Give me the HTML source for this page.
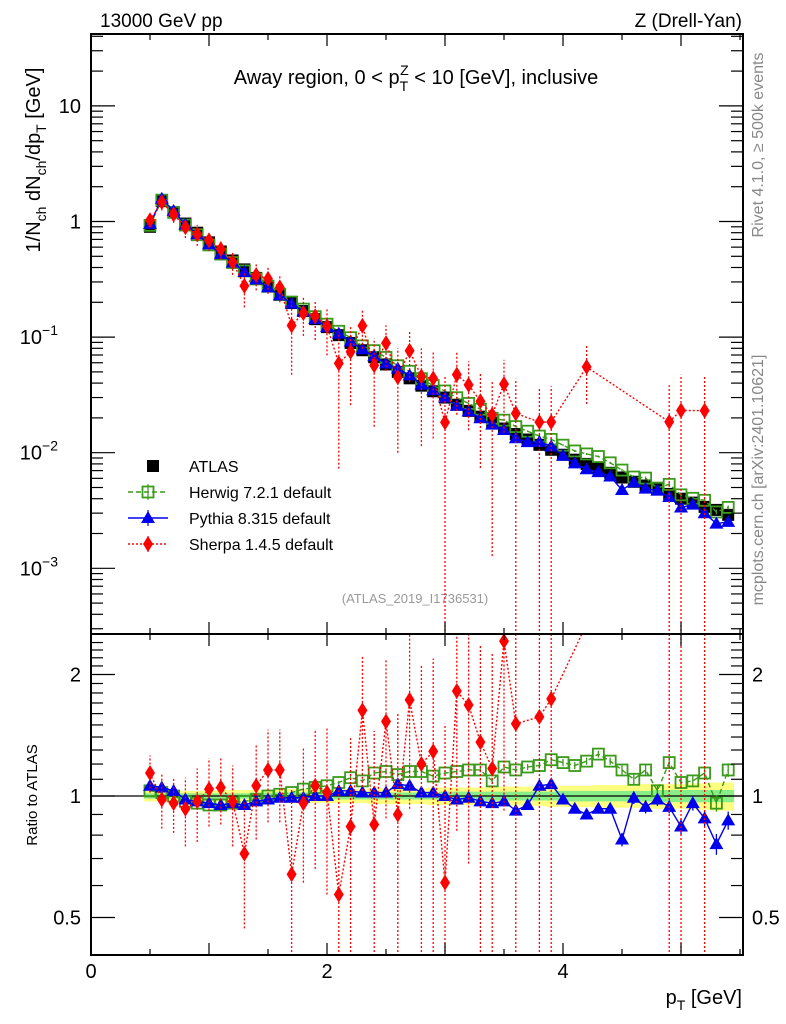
<!DOCTYPE html>
<html><head><meta charset="utf-8">
<style>
html,body{margin:0;padding:0;background:#fff;width:786px;height:1024px;overflow:hidden;}
svg{display:block;font-family:"Liberation Sans",Arial,sans-serif;}
</style></head>
<body>
<svg id="chart" width="786" height="1024" viewBox="0 0 786 1024">
  <text x="100" y="27" font-size="19">13000 GeV pp</text>
  <text x="742" y="27" font-size="19" text-anchor="end">Z (Drell-Yan)</text>
  <text x="416" y="84" font-size="20" text-anchor="middle">Away region, 0 &lt; p<tspan font-size="14" dy="7">T</tspan><tspan font-size="14" dx="-8" dy="-16">Z</tspan><tspan dy="9"> &lt; 10 [GeV], inclusive</tspan></text>
  <text x="415" y="603" font-size="13" fill="#999" text-anchor="middle">(ATLAS_2019_I1736531)</text>
  <text transform="translate(763,145) rotate(-90)" font-size="16" fill="#888" text-anchor="middle">Rivet 4.1.0, ≥ 500k events</text>
  <text transform="translate(763,480) rotate(-90)" font-size="16" fill="#888" text-anchor="middle">mcplots.cern.ch [arXiv:2401.10621]</text>
  <text transform="translate(40,160) rotate(-90)" font-size="20" text-anchor="middle">1/N<tspan font-size="14" dy="6">ch</tspan><tspan dy="-6"> dN</tspan><tspan font-size="14" dy="6">ch</tspan><tspan dy="-6">/dp</tspan><tspan font-size="14" dy="6">T</tspan><tspan dy="-6"> [GeV]</tspan></text>
  <text transform="translate(37,795) rotate(-90)" font-size="15" text-anchor="middle">Ratio to ATLAS</text>
  <text x="742" y="1004" font-size="20" text-anchor="end">p<tspan font-size="14" dy="6">T</tspan><tspan dy="-6"> [GeV]</tspan></text>
  <g id="main"></g>
  <g id="ratio"></g>
  <g id="axes"></g>
  <g id="legend"></g>
</svg>
<script>
const xs = [0.5,0.6,0.7,0.8,0.9,1.0,1.1,1.2,1.3,1.4,1.5,1.6,1.7,1.8,1.9,2.0,2.1,2.2,2.3,2.4,2.5,2.6,2.7,2.8,2.9,3.0,3.1,3.2,3.3,3.4,3.5,3.6,3.7,3.8,3.9,4.0,4.1,4.2,4.3,4.4,4.5,4.6,4.7,4.8,4.9,5.0,5.1,5.2,5.3,5.4];
const atlas = [0.90,1.50,1.20,0.96,0.80,0.66,0.55,0.46,0.385,0.325,0.275,0.232,0.197,0.168,0.143,0.122,0.104,0.089,0.077,0.067,0.058,0.050,0.044,0.038,0.034,0.030,0.026,0.023,0.0205,0.0182,0.0162,0.0145,0.013,0.0117,0.0106,0.0096,0.0087,0.0080,0.0073,0.0067,0.0061,0.0056,0.0052,0.0048,0.0044,0.0040,0.0037,0.0034,0.0032,0.0029];
const herwigRatio = [1.03,1.02,1.0,0.97,0.96,0.95,0.95,0.96,0.97,0.98,1.0,1.01,1.02,1.04,1.05,1.06,1.08,1.11,1.09,1.14,1.15,1.13,1.15,1.15,1.12,1.14,1.15,1.16,1.16,1.09,1.18,1.16,1.18,1.19,1.23,1.21,1.19,1.22,1.27,1.22,1.16,1.10,1.16,1.03,1.21,1.08,1.09,1.14,0.96,1.16];
const pythiaRatio = [1.06,1.05,1.03,0.98,0.97,0.96,0.95,0.96,0.95,0.97,0.98,0.99,0.99,0.99,1.0,1.0,1.03,1.03,1.02,1.02,1.02,1.07,1.06,1.02,1.02,1.0,0.98,0.99,0.97,0.96,0.97,0.92,0.95,1.06,1.07,0.98,0.93,0.90,0.93,0.93,0.78,0.99,0.94,0.98,0.94,0.84,0.96,0.88,0.76,0.87];
const sherpaRatio = [1.14,0.98,0.96,0.93,0.97,1.04,1.05,0.97,0.72,1.06,1.16,1.16,0.64,0.96,1.06,1.02,0.57,0.84,1.63,0.85,1.53,0.90,1.73,1.2,1.29,0.61,1.82,1.68,1.36,1.17,2.42,1.51,null,1.57,1.74,null,null,6.9,null,null,null,null,null,null,4.2,5.8,null,6.8,null,null];
const sherpaErr = [0.12,0.15,0.15,0.18,0.2,0.2,0.2,0.22,0.25,0.28,0.3,0.3,0.4,0.35,0.4,0.45,0.5,0.55,0.6,0.6,0.65,0.7,0.8,0.9,0.9,0.9,1.0,1.0,1.0,1.1,1.5,1.5,null,1.6,1.8,null,null,3.6,null,null,null,null,null,null,4.5,6,null,7,null,null];
const mcErr = [0.01,0.01,0.01,0.01,0.01,0.01,0.01,0.01,0.01,0.01,0.01,0.01,0.01,0.01,0.01,0.01,0.01,0.01,0.01,0.01,0.01,0.015,0.015,0.015,0.015,0.015,0.015,0.015,0.015,0.02,0.02,0.02,0.02,0.02,0.02,0.025,0.025,0.025,0.025,0.025,0.03,0.035,0.035,0.035,0.035,0.04,0.04,0.04,0.045,0.045];
const bandInner = [0.015,0.015,0.015,0.015,0.015,0.015,0.015,0.015,0.015,0.02,0.02,0.02,0.02,0.02,0.02,0.02,0.02,0.02,0.02,0.02,0.02,0.02,0.02,0.02,0.02,0.025,0.025,0.025,0.025,0.025,0.025,0.025,0.025,0.025,0.025,0.03,0.03,0.03,0.03,0.03,0.03,0.03,0.03,0.035,0.035,0.035,0.035,0.035,0.035,0.035];
const bandOuter = [0.03,0.03,0.03,0.03,0.03,0.03,0.035,0.035,0.035,0.035,0.035,0.035,0.04,0.04,0.04,0.04,0.04,0.04,0.04,0.045,0.045,0.045,0.045,0.045,0.05,0.05,0.05,0.05,0.05,0.05,0.055,0.055,0.055,0.055,0.06,0.06,0.06,0.06,0.065,0.065,0.065,0.065,0.07,0.07,0.07,0.07,0.075,0.075,0.08,0.08];
const mainTickLabels = ["10","1"];
const ratioTickValues = [0.5,1,2];
const xTickLabels = [0,2,4];

const NS="http://www.w3.org/2000/svg";
const L=91, R=743, MT=34, MB=634, RB=955;
const clamp=(v,a,b)=>Math.max(a,Math.min(b,v));
const xpx = v => L + v*118;
const ymain = v => 221.5 - Math.log10(v)*115.6;
const yrat = v => 796 - Math.log2(v)*121.5;
function mk(tag, parent, at){const e=document.createElementNS(NS,tag);for(const k in at)e.setAttribute(k,at[k]);parent.appendChild(e);return e;}
const gM=document.getElementById('main'), gR=document.getElementById('ratio'), gA=document.getElementById('axes'), gL=document.getElementById('legend');
const clipM=mk('clipPath',gM,{id:'cm'}); mk('rect',clipM,{x:L,y:MT,width:R-L,height:MB-MT});
const clipR=mk('clipPath',gR,{id:'cr'}); mk('rect',clipR,{x:L,y:MB,width:R-L,height:RB-MB});
const pM=mk('g',gM,{'clip-path':'url(#cm)'}), pR=mk('g',gR,{'clip-path':'url(#cr)'});

function bandPath(arr){let top='',bot='';xs.forEach((x,i)=>{const a=xpx(x-0.05),b=xpx(x+0.05);top+=(i?'L':'M')+a+','+yrat(1+arr[i])+'L'+b+','+yrat(1+arr[i]);});for(let i=xs.length-1;i>=0;i--){bot+='L'+xpx(xs[i]+0.05)+','+yrat(1-arr[i])+'L'+xpx(xs[i]-0.05)+','+yrat(1-arr[i]);}return top+bot+'Z';}
const bo=mk('path',pR,{d:bandPath(bandOuter),fill:'#ffff80'});


const bi=mk('path',pR,{d:bandPath(bandInner),fill:'#88ee88'});


const ul=mk('line',pR,{x1:L,x2:R,y1:yrat(1),y2:yrat(1),stroke:'#000','stroke-width':1.3});



xs.forEach((x,i)=>{const r=mk('rect',pM,{x:xpx(x)-6,y:ymain(atlas[i])-6,width:12,height:12,fill:'#000'});

});

function marker(g,kind,cx,cy){let e;
 if(kind==='sq') e=mk('rect',g,{x:cx-5.5,y:cy-5.5,width:11,height:11,fill:'none',stroke:'#3a9a1a','stroke-width':1.8});
 else if(kind==='tri') e=mk('polygon',g,{points:`${cx},${cy-7} ${cx-7},${cy+5} ${cx+7},${cy+5}`,fill:'#0000ee'});
 else e=mk('polygon',g,{points:`${cx},${cy-8} ${cx-5},${cy} ${cx},${cy+8} ${cx+5},${cy}`,fill:'#ff0000'});
 return e;}
function series(g,ratio,err,kind,color,dash,name,isMain){
 const top=isMain?MT:MB, bot=isMain?MB:RB;
 let d='';
 xs.forEach((x,i)=>{const r=ratio[i];if(r==null){return;}const v=isMain?atlas[i]*r:r;const y=clamp(isMain?ymain(v):yrat(v),top-10,bot+10);d+=(d?'L':'M')+xpx(x)+','+y;});
 const p=mk('path',g,{d:d,fill:'none',stroke:color,'stroke-width':1.4,'stroke-dasharray':dash});
 
 
 xs.forEach((x,i)=>{const r=ratio[i];if(r==null)return;const e=err[i];
  const v=isMain?atlas[i]*r:r;const f=isMain?(y=>ymain(y)):(y=>yrat(y));const s=isMain?atlas[i]:1;
  const lo=(r-e)>0.01?clamp(f(s*(r-e)),top-5,bot+5):bot+5, hi=clamp(f(s*(r+e)),top-5,bot+5);
  const el=mk('line',g,{x1:xpx(x),x2:xpx(x),y1:lo,y2:hi,stroke:color,'stroke-width':1.3,'stroke-dasharray':kind==='dia'?'2,2':'none'});
  
  
  const cy=f(v);
  if(cy<top-10||cy>bot+10)return;
  const m=marker(g,kind,xpx(x),cy);
  
  });}
series(pM,herwigRatio,mcErr,'sq','#3a9a1a','5,3','herwig',true);
series(pM,pythiaRatio,mcErr,'tri','#0000ee','none','pythia',true);
series(pM,sherpaRatio,sherpaErr,'dia','#ff0000','2,2','sherpa',true);
series(pR,herwigRatio,mcErr,'sq','#3a9a1a','5,3','herwig-ratio',false);
series(pR,pythiaRatio,mcErr,'tri','#0000ee','none','pythia-ratio',false);
series(pR,sherpaRatio,sherpaErr,'dia','#ff0000','2,2','sherpa-ratio',false);

[[MT,MB,'main-frame'],[MB,RB,'ratio-frame']].forEach(([t,b,n])=>{const f=mk('rect',gA,{x:L,y:t,width:R-L,height:b-t,fill:'none',stroke:'#000','stroke-width':2});

});
for(let v=0;v<=5.5;v+=0.5){const X=xpx(v),len=(Math.abs(v-Math.round(v))<1e-6)?12:6;
 [[MT,1],[MB,-1],[MB,1],[RB,-1]].forEach(([y,s])=>{mk('line',gA,{x1:X,x2:X,y1:y,y2:y+s*len,stroke:'#000','stroke-width':1.2});});}
xTickLabels.forEach(v=>{const t=mk('text',gA,{x:xpx(v),y:978,'font-size':20,'text-anchor':'middle'});t.textContent=v;

});
for(let e=-4;e<=1;e++){for(let k=1;k<10;k++){const v=k*Math.pow(10,e);const Y=ymain(v);if(Y<MT||Y>MB)continue;const len=k===1?24:12;
 mk('line',gA,{x1:L,x2:L+len,y1:Y,y2:Y,stroke:'#000','stroke-width':1.2});mk('line',gA,{x1:R,x2:R-len,y1:Y,y2:Y,stroke:'#000','stroke-width':1.2});}}
mainTickLabels.forEach((s,i)=>{const t=mk('text',gA,{x:81,y:ymain(Math.pow(10,1-i))+7,'font-size':20,'text-anchor':'end'});t.textContent=s;

});
[-1,-2,-3].forEach(e=>{const t=mk('text',gA,{x:58,y:ymain(Math.pow(10,e))+7,'font-size':20,'text-anchor':'end'});t.textContent='10';
const s=mk('tspan',t,{'font-size':14,dy:-9});s.textContent=String(e).replace('-','−');

});
for(let v=0.4;v<=2.5;v+=0.1){const Y=yrat(v);if(Y<MB||Y>RB)continue;const major=[0.5,1,2].some(m=>Math.abs(m-v)<1e-6);const len=major?24:12;
 mk('line',gA,{x1:L,x2:L+len,y1:Y,y2:Y,stroke:'#000','stroke-width':1.2});mk('line',gA,{x1:R,x2:R-len,y1:Y,y2:Y,stroke:'#000','stroke-width':1.2});}
ratioTickValues.forEach(v=>{[[81,'end'],[752,'start']].forEach(([x,a])=>{const t=mk('text',gA,{x:x,y:yrat(v)+7,'font-size':20,'text-anchor':a});t.textContent=v;

});});
const leg=[['ATLAS','at','#000','none'],['Herwig 7.2.1 default','sq','#3a9a1a','5,3'],['Pythia 8.315 default','tri','#0000ee','none'],['Sherpa 1.4.5 default','dia','#ff0000','2,2']];
leg.forEach(([lab,k,c,d],i)=>{const y=466+i*26;const g=mk('g',gL,{});
 
 
 if(k==='at'){mk('rect',g,{x:147,y:y-6,width:12,height:12,fill:'#000'});}
 else{mk('line',g,{x1:128,x2:168,y1:y,y2:y,stroke:c,'stroke-width':1.4,'stroke-dasharray':d});mk('line',g,{x1:148,x2:148,y1:y-8,y2:y+8,stroke:c,'stroke-width':1.2});marker(g,k,148,y);}
 const t=mk('text',g,{x:189,y:y+6,'font-size':16});t.textContent=lab;});
</script>
</body></html>
